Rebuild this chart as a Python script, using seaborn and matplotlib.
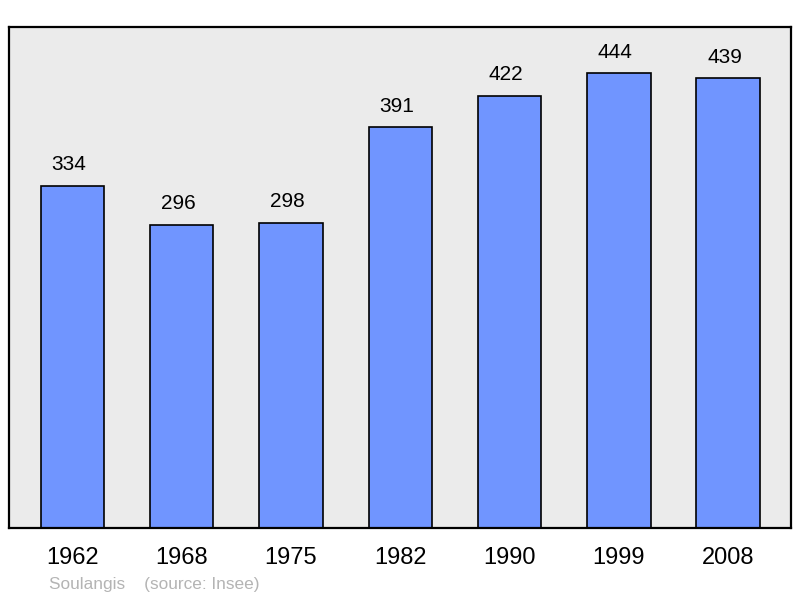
import matplotlib
matplotlib.use("Agg")
import matplotlib.pyplot as plt
import seaborn as sns
import pandas as pd

years = ["1962", "1968", "1975", "1982", "1990", "1999", "2008"]
population = [334, 296, 298, 391, 422, 444, 439]
commune = "Soulangis"
source = "(source: Insee)"

df = pd.DataFrame({"Année": years, "Population": population})

sns.set_theme(style="white")
plt.rcParams["font.family"] = ["Liberation Sans", "DejaVu Sans"]

fig = plt.figure(figsize=(8, 5.98), dpi=100)
ax = fig.add_axes([0.01125, 0.117, 0.9775, 0.838])
ax.set_facecolor("#ebebeb")

sns.barplot(data=df, x="Année", y="Population", ax=ax,
            color="#7095ff", saturation=1, width=0.58,
            edgecolor="black", linewidth=1.2)

# value labels above the bars
for i, v in enumerate(population):
    ax.annotate(str(v), (i, v), xytext=(-2.5, 11), textcoords="offset points",
                ha="center", va="baseline", fontsize=15, color="black")

ax.set_xlim(-0.58, 6.575)
ax.set_ylim(0, 489)
ax.set_yticks([])
ax.set_xlabel("")
ax.set_ylabel("")
ax.tick_params(axis="x", length=0, pad=14, labelsize=17, colors="black")
for s in ax.spines.values():
    s.set_visible(True)
    s.set_color("black")
    s.set_linewidth(1.6)

fig.text(49 / 800, 1 - 584 / 598, commune + "    " + source,
         fontsize=12.4, color="#b4b4b4", ha="left", va="center")

fig.savefig("out.png", dpi=100)
